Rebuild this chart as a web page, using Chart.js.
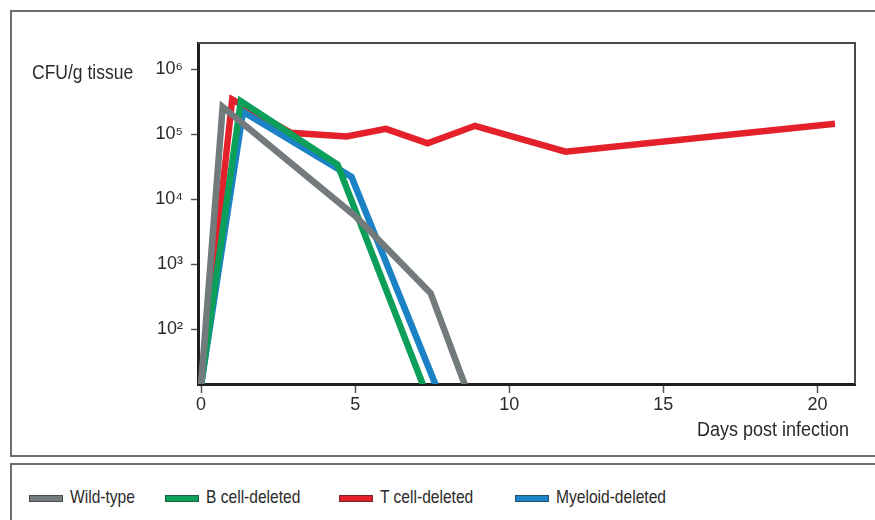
<!DOCTYPE html>
<html>
<head>
<meta charset="utf-8">
<script src="https://cdn.jsdelivr.net/npm/chart.js@4/dist/chart.umd.min.js"></script>
<style>
  html, body { margin:0; padding:0; background:#fff; width:875px; height:520px; overflow:hidden;
    font-family:"Liberation Sans Narrow","Arial Narrow","Liberation Sans",Arial,sans-serif; color:#2a2a2a; }
  #frame { position:absolute; left:10px; top:10px; width:900px; height:443px; border:2px solid #6e6e6e; }
  #legendBox { position:absolute; left:10px; top:463px; width:900px; height:100px; border:2px solid #6e6e6e; }
  #cv { position:absolute; left:0; top:0; }
  .txt { position:absolute; font-size:20px; line-height:22px; white-space:nowrap; }
  #ytitle { left:32px; top:61px; transform:scaleX(0.875); transform-origin:left center; }
  #xtitle { right:26px; top:418px; transform:scaleX(0.9); transform-origin:right center; }
  .sw { position:absolute; width:32px; height:5px; top:495px; border:1px solid rgba(40,40,40,0.55); }
  .lt { position:absolute; top:486px; font-size:19px; line-height:21px; white-space:nowrap;
        transform:scaleX(0.82); transform-origin:left center; }
</style>
</head>
<body>
<div id="frame"></div>
<div id="legendBox"></div>
<canvas id="cv" width="875" height="456"></canvas>
<div class="txt" id="ytitle">CFU/g tissue</div>
<div class="txt" id="xtitle">Days post infection</div>
<div id="legend"></div>
<script>
// ---- data ----
const seriesNames = ['Wild-type', 'B cell-deleted', 'T cell-deleted', 'Myeloid-deleted'];
const seriesColors = ['#727a7b', '#0c9f5a', '#e4202a', '#1c82c6'];

const wildDays = [0, 0.70, 5.0, 7.45, 8.56];
const wildCFU  = [14, 2.6e5, 5.5e3, 358, 14];

const bCellDays = [0, 1.29, 4.43, 7.2];
const bCellCFU  = [14, 3.2e5, 3.4e4, 14];

const tCellDays = [0, 1.01, 2.9, 4.72, 6.0, 7.35, 8.89, 11.83, 20.57];
const tCellCFU  = [14, 3.4e5, 1.05e5, 9.2e4, 1.2e5, 7.2e4, 1.34e5, 5.35e4, 1.44e5];

const myeloidDays = [0, 1.36, 4.88, 7.61];
const myeloidCFU  = [14, 2.2e5, 2.2e4, 14];

const xTicks = [0, 5, 10, 15, 20];
const yTicks = [1e2, 1e3, 1e4, 1e5, 1e6];
// --------------------------------------

const sup = {0:'⁰',1:'¹',2:'²',3:'³',4:'⁴',5:'⁵',6:'⁶',7:'⁷',8:'⁸',9:'⁹'};
const toPts = (xs, ys) => xs.map((x, i) => ({x: x, y: ys[i]}));
const seriesData = [
  toPts(wildDays, wildCFU),
  toPts(bCellDays, bCellCFU),
  toPts(tCellDays, tCellCFU),
  toPts(myeloidDays, myeloidCFU)
];
const drawOrder = [0, 1, 3, 2]; // gray on top, red at bottom

const FONT = '"Liberation Sans Narrow","Arial Narrow","Liberation Sans",Arial,sans-serif';
Chart.defaults.font.family = FONT;
Chart.defaults.color = '#2a2a2a';

const frameBorder = {
  id: 'frameBorder',
  beforeDatasetsDraw(chart) {
    const a = chart.chartArea, c = chart.ctx;
    c.save();
    c.strokeStyle = '#4a4a4a';
    c.lineWidth = 2;
    c.beginPath();
    c.moveTo(a.left, a.top);
    c.lineTo(a.right, a.top);
    c.lineTo(a.right, a.bottom);
    c.stroke();
    c.restore();
  }
};

const chart = new Chart(document.getElementById('cv'), {
  type: 'line',
  data: {
    datasets: seriesNames.map((name, i) => ({
      label: name,
      data: seriesData[i],
      borderColor: seriesColors[i],
      backgroundColor: seriesColors[i],
      borderWidth: 6.5,
      borderJoinStyle: 'miter',
      borderCapStyle: 'butt',
      pointRadius: 0,
      tension: 0,
      fill: false,
      clip: 0,
      order: drawOrder[i]
    }))
  },
  options: {
    responsive: false,
    animation: false,
    devicePixelRatio: 1,
    layout: { padding: { left: 0, right: 20, top: 43, bottom: 0 } },
    plugins: { legend: { display: false }, tooltip: { enabled: false } },
    scales: {
      x: {
        type: 'linear',
        min: -0.1,
        max: 21.22,
        afterBuildTicks: s => { s.ticks = xTicks.map(v => ({value: v})); },
        afterFit: s => { s.height = 72; },
        grid: { drawOnChartArea: false, drawTicks: true, tickLength: 9, tickWidth: 1.5, tickColor: '#555' },
        border: { display: true, width: 3, color: '#1e1e1e' },
        ticks: { font: { size: 18 }, padding: 1, color: '#2a2a2a', maxRotation: 0 }
      },
      y: {
        type: 'logarithmic',
        min: 14.4,
        max: 2.51e6,
        afterBuildTicks: s => { s.ticks = yTicks.map(v => ({value: v})); },
        afterFit: s => { s.width = 198; },
        grid: { drawOnChartArea: false, drawTicks: true, tickLength: 7, tickWidth: 1.5, tickColor: '#555' },
        border: { display: true, width: 3, color: '#1e1e1e' },
        ticks: {
          font: { size: 18 }, padding: 8, color: '#2a2a2a',
          callback: v => '10' + String(Math.round(Math.log10(v))).split('').map(d => sup[d]).join('')
        }
      }
    }
  },
  plugins: [frameBorder]
});

// HTML legend built from the chart's datasets
const swLefts = [29, 165, 339, 515];
const legend = document.getElementById('legend');
chart.data.datasets.forEach((ds, i) => {
  const sw = document.createElement('div');
  sw.className = 'sw';
  sw.style.left = swLefts[i] + 'px';
  sw.style.background = ds.borderColor;
  legend.appendChild(sw);
  const t = document.createElement('div');
  t.className = 'lt';
  t.style.left = (swLefts[i] + 41) + 'px';
  t.textContent = ds.label;
  legend.appendChild(t);
});
</script>
</body>
</html>
